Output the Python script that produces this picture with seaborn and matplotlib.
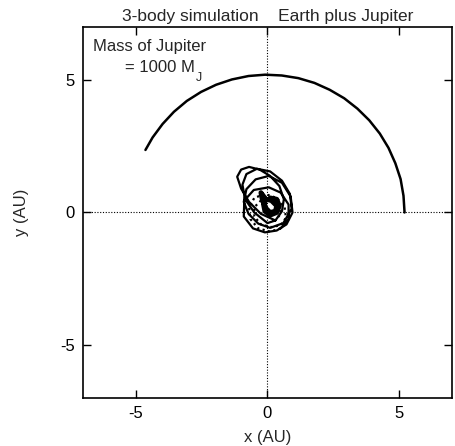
import matplotlib
matplotlib.use("Agg")
import matplotlib.pyplot as plt
import seaborn as sns
import numpy as np
import pandas as pd

sns.set_style("ticks")
plt.rcParams['font.family'] = ['Liberation Sans', 'DejaVu Sans']
plt.rcParams['axes.unicode_minus'] = False

# Jupiter trajectory (AU)
jup_x = [5.20, 5.16, 5.05, 4.85, 4.59, 4.26, 3.86, 3.41, 2.91, 2.36, 1.78, 1.17,
         0.54, -0.09, -0.72, -1.35, -1.95, -2.52, -3.06, -3.55, -3.98, -4.36, -4.63]
jup_y = [0.00, 0.63, 1.26, 1.86, 2.44, 2.98, 3.48, 3.92, 4.31, 4.63, 4.89, 5.07,
         5.17, 5.20, 5.15, 5.02, 4.82, 4.55, 4.21, 3.80, 3.34, 2.83, 2.36]

# Earth trajectory: solid loops (AU)
earth_x = [0.30, -0.25, -0.70, -1.00, -1.15, -1.00, -0.70, -0.30, 0.10, 0.45, 0.62, 0.55, 0.30,
           0.00, -0.50, -0.85, -0.95, -0.80, -0.40, 0.10, 0.55, 0.85, 0.92, 0.60,
           0.10, -0.35, -0.72, -0.90, -0.80, -0.45, 0.05, 0.55, 0.88, 0.95, 0.72, 0.35,
           -0.10, -0.55, -0.90, -0.88, -0.52, 0.05, 0.50, 0.80, 0.80, 0.50]
earth_y = [-0.30, -0.05, 0.40, 0.90, 1.35, 1.62, 1.72, 1.62, 1.38, 1.00, 0.50, 0.05, -0.30,
           -0.40, 0.00, 0.50, 1.05, 1.45, 1.65, 1.55, 1.20, 0.70, 0.15, -0.40,
           -0.58, -0.42, -0.05, 0.40, 0.88, 1.25, 1.38, 1.12, 0.60, 0.00, -0.45, -0.68,
           -0.75, -0.60, -0.15, 0.45, 0.85, 0.95, 0.75, 0.30, -0.25, -0.60]

# Earth trajectory: dotted inner loops (AU)
dot_x = [0.50, 0.10, -0.35, -0.65, -0.70, -0.50, -0.10, 0.35, 0.65, 0.70, 0.50,
         0.15, -0.25, -0.50, -0.50, -0.25, 0.15, 0.45, 0.50, 0.30]
dot_y = [-0.60, -0.72, -0.60, -0.25, 0.20, 0.55, 0.70, 0.55, 0.20, -0.20, -0.48,
         -0.55, -0.45, -0.15, 0.20, 0.45, 0.50, 0.30, -0.05, -0.30]

# Central blob (AU)
blob_x = [0.10, 0.35, 0.45, 0.35, 0.10, -0.10, -0.15, -0.05, 0.15, 0.35, 0.30, 0.10, -0.05, -0.20, -0.25, -0.10]
blob_y = [0.55, 0.50, 0.25, 0.00, -0.10, 0.05, 0.30, 0.50, 0.45, 0.25, 0.05, 0.00, 0.15, 0.50, 0.75, 0.55]

fig = plt.figure(figsize=(4.55, 4.46), dpi=100)
ax = fig.add_axes([0.1824, 0.1076, 0.811, 0.8319])

ax.axhline(0, color='black', lw=0.8, ls=(0, (1, 1.5)))
ax.axvline(0, color='black', lw=0.8, ls=(0, (1, 1.5)))

kw = dict(sort=False, estimator=None, color='black', ax=ax)
sns.lineplot(x=jup_x, y=jup_y, lw=1.8, **kw)
sns.lineplot(x=earth_x, y=earth_y, lw=1.6, **kw)
sns.lineplot(x=dot_x, y=dot_y, lw=1.6, linestyle=(0, (1, 1.5)), **kw)
sns.lineplot(x=blob_x, y=blob_y, lw=3.5, **kw)
for ln in ax.lines:
    ln.set_solid_joinstyle('round')
    ln.set_solid_capstyle('round')

ax.set_xlim(-7, 7)
ax.set_ylim(-7, 7)
ax.set_xticks([-5, 0, 5])
ax.set_yticks([-5, 0, 5])
ax.tick_params(direction='in', top=True, right=True, length=6, width=1, labelsize=12,
               colors='black', pad=6)
for s in ax.spines.values():
    s.set_linewidth(1.2)
    s.set_color('black')
ax.set_xlabel('x (AU)', fontsize=12, labelpad=6)
ax.set_ylabel('y (AU)', fontsize=12, labelpad=22)
ax.set_title('3-body simulation    Earth plus Jupiter', fontsize=12.5, pad=4)
ax.text(-6.63, 6.28, 'Mass of Jupiter', fontsize=12, ha='left', va='center')
t2 = ax.text(-5.42, 5.48, '= 1000 M', fontsize=12, ha='left', va='center')
fig.canvas.draw()
bb = t2.get_window_extent()
inv = ax.transData.inverted()
xj, yj = inv.transform((bb.x1 + 1, bb.y0 - 3))
ax.text(xj, yj, 'J', fontsize=9, ha='left', va='center')

fig.savefig('out.png', dpi=100)
